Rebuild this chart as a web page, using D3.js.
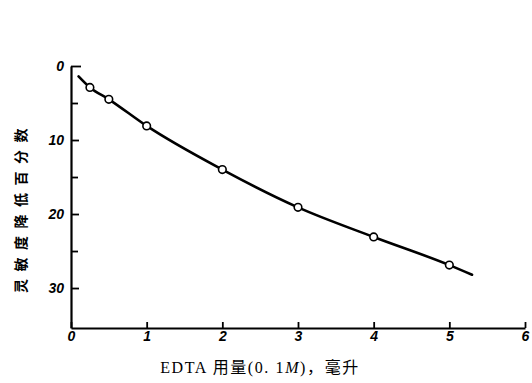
<!DOCTYPE html>
<html>
<head>
<meta charset="utf-8">
<script src="https://cdn.jsdelivr.net/npm/d3@7"></script>
<style>
  body { margin: 0; background: #fff; }
  svg { display: block; }
</style>
</head>
<body>
<svg id="chart" width="532" height="383"></svg>
<script>
// data
const edta = [0.25, 0.5, 1, 2, 3, 4, 5];
const drop = [2.9, 4.5, 8.1, 14.0, 19.1, 23.1, 26.9];
// the hand-drawn curve runs a little past the first and last points
const curveX = [0.1, 0.25, 0.5, 1, 2, 3, 4, 5, 5.3];
const curveY = [1.4, 2.9, 4.5, 8.1, 14.0, 19.1, 23.1, 26.9, 28.2];
const xTicks = [0, 1, 2, 3, 4, 5, 6];
const yTicks = [0, 10, 20, 30];
const yMinor = [5, 15, 25];

const svg = d3.select("#chart");

const x = d3.scaleLinear().domain([0, 6]).range([71, 525]);
const y = d3.scaleLinear().domain([0, 35.4]).range([66, 328]);

const tickFont = "italic bold 14px 'Liberation Sans', 'DejaVu Sans', sans-serif";

// x axis, ticks pointing up
const xAxis = svg.append("g")
    .attr("transform", `translate(0,${y(35.4)})`)
    .call(d3.axisBottom(x)
        .tickValues(xTicks)
        .tickSizeInner(-6)
        .tickSizeOuter(0)
        .tickPadding(3)
        .tickFormat(d3.format("d")));

// y axis, inverted, ticks pointing right
const yAxis = svg.append("g")
    .attr("transform", `translate(${x(0)},0)`)
    .call(d3.axisLeft(y)
        .tickValues(yTicks.concat(yMinor))
        .tickSizeInner(-8)
        .tickSizeOuter(0)
        .tickPadding(7)
        .tickFormat(d => yTicks.includes(d) ? d : ""));

// top tick a bit longer, like a bracket
yAxis.selectAll(".tick line")
    .attr("x2", d => d === 0 ? 10 : (yTicks.includes(d) ? 8 : 7));

[xAxis, yAxis].forEach(g => {
    g.select(".domain").attr("stroke", "#000").attr("stroke-width", 2.2);
    g.selectAll(".tick line").attr("stroke", "#000").attr("stroke-width", 1.8);
    g.selectAll(".tick text")
        .attr("fill", "#000")
        .style("font", tickFont);
});

// curve
const line = d3.line()
    .x((d, i) => x(curveX[i]))
    .y((d, i) => y(curveY[i]))
    .curve(d3.curveMonotoneX);

svg.append("path")
    .datum(curveX)
    .attr("d", line)
    .attr("fill", "none")
    .attr("stroke", "#000")
    .attr("stroke-width", 2.6)
    .attr("stroke-linecap", "round");

// measured points
svg.selectAll("circle.pt")
    .data(edta)
    .enter()
    .append("circle")
    .attr("class", "pt")
    .attr("cx", d => x(d))
    .attr("cy", (d, i) => y(drop[i]))
    .attr("r", 3.8)
    .attr("fill", "#fff")
    .attr("stroke", "#000")
    .attr("stroke-width", 1.6);

// axis titles
const xt = svg.append("text")
    .attr("x", 260)
    .attr("y", 373)
    .attr("text-anchor", "middle")
    .attr("fill", "#000")
    .style("font", "16px 'Liberation Serif', 'Noto Sans CJK SC', serif")
    .style("letter-spacing", "1.6px");
xt.append("tspan").text("EDTA 用量(0. 1");
xt.append("tspan").style("font-style", "italic").text("M");
xt.append("tspan").text(")，毫升");

svg.append("text")
    .attr("transform", "translate(26,207) rotate(-90)")
    .attr("text-anchor", "middle")
    .attr("fill", "#000")
    .style("font", "bold 14px 'Noto Sans CJK SC', sans-serif")
    .style("letter-spacing", "7.5px")
    .text("灵敏度降低百分数");
</script>
</body>
</html>
